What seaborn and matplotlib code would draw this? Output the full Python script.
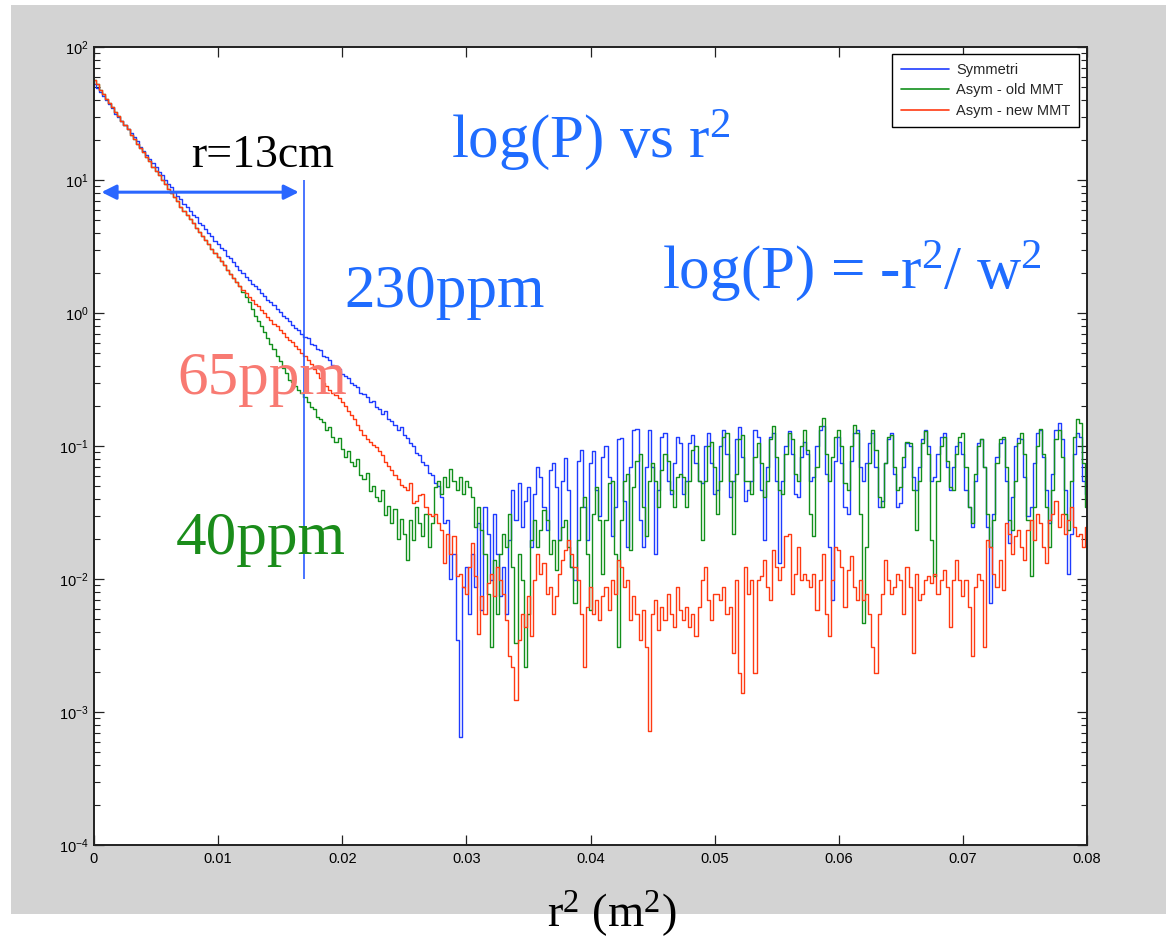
import numpy as np
import pandas as pd
import matplotlib
matplotlib.use("Agg")
import matplotlib.pyplot as plt
from matplotlib.patches import Rectangle
from matplotlib.lines import Line2D
import seaborn as sns

# ---------------- data (log10 of P, bins of 0.00025 m^2) ----------------
series_names = ["Symmetri", "Asym - old MMT", "Asym - new MMT"]
r2_min, r2_max = 0.0, 0.08

sym_log10P = [
    1.72, 1.69, 1.66, 1.63, 1.60, 1.57, 1.54, 1.50, 1.47, 1.44,
    1.41, 1.38, 1.35, 1.32, 1.29, 1.25, 1.22, 1.19, 1.16, 1.13,
    1.10, 1.06, 1.04, 1.00, 0.97, 0.95, 0.91, 0.88, 0.86, 0.82,
    0.80, 0.77, 0.74, 0.72, 0.68, 0.66, 0.63, 0.60, 0.58, 0.54,
    0.52, 0.49, 0.47, 0.43, 0.41, 0.38, 0.35, 0.32, 0.30, 0.27,
    0.25, 0.22, 0.20, 0.18, 0.15, 0.13, 0.10, 0.08, 0.06, 0.03,
    0.01, -0.02, -0.04, -0.06, -0.09, -0.11, -0.13, -0.16, -0.18, -0.19,
    -0.23, -0.24, -0.27, -0.28, -0.32, -0.33, -0.35, -0.39, -0.40, -0.42,
    -0.46, -0.47, -0.49, -0.53, -0.54, -0.56, -0.60, -0.61, -0.63, -0.67,
    -0.66, -0.71, -0.72, -0.76, -0.74, -0.80, -0.81, -0.84, -0.88, -0.86,
    -0.92, -0.94, -0.98, -1.00, -1.05, -1.07, -1.12, -1.14, -1.20, -1.22,
    -1.28, -1.30, -1.38, -1.58, -1.56, -2.00, -1.81, -2.46, -3.19, -2.06,
    -1.91, -2.26, -1.81, -2.06, -1.58, -2.23, -1.46, -1.66, -2.01, -1.51,
    -1.81, -2.13, -1.91, -2.26, -1.71, -1.33, -1.56, -1.28, -1.61, -1.41,
    -1.31, -1.76, -1.36, -1.16, -1.23, -1.46, -1.63, -1.18, -1.13, -1.31,
    -1.71, -1.26, -1.09, -1.33, -1.91, -2.01, -1.11, -1.03, -1.46, -1.71,
    -1.13, -1.04, -1.33, -1.53, -1.08, -1.00, -1.23, -1.68, -1.46, -0.95,
    -0.94, -1.41, -1.76, -1.16, -0.88, -0.87, -1.56, -1.76, -1.16, -0.88,
    -1.16, -1.81, -1.33, -0.93, -0.90, -1.26, -1.36, -1.13, -0.93, -0.98,
    -1.36, -1.26, -0.98, -0.92, -1.13, -1.26, -1.28, -1.00, -0.90, -1.13,
    -1.36, -1.33, -1.00, -0.88, -1.06, -1.38, -1.26, -0.95, -0.86, -1.08,
    -1.41, -1.33, -1.26, -0.88, -0.93, -1.33, -1.71, -1.16, -0.93, -0.90,
    -1.26, -1.88, -1.26, -1.00, -0.89, -1.06, -1.36, -1.38, -1.08, -0.97,
    -1.06, -1.26, -1.23, -1.00, -0.88, -0.85, -1.21, -1.76, -2.16, -1.11,
    -0.93, -1.13, -1.46, -1.51, -1.11, -0.90, -0.88, -1.16, -1.26, -1.13,
    -0.98, -0.90, -1.16, -1.46, -1.41, -1.13, -0.95, -0.90, -1.21, -1.46,
    -1.43, -1.16, -0.98, -1.00, -1.23, -1.33, -1.16, -0.95, -0.88, -1.00,
    -1.26, -1.23, -1.06, -0.93, -0.90, -1.16, -1.33, -1.16, -1.00, -0.97,
    -1.06, -1.33, -1.46, -1.61, -1.26, -0.98, -0.95, -1.16, -1.61, -2.18,
    -1.51, -1.08, -0.98, -0.95, -1.26, -1.73, -1.38, -1.00, -0.94, -0.95,
    -1.23, -1.53, -1.46, -1.13, -0.90, -0.88, -1.08, -1.33, -1.58, -1.21,
    -0.88, -0.83, -0.95, -1.33, -1.96, -1.66, -1.06, -0.90, -0.93, -1.26,
    -1.36,
]

old_log10P = [
    1.75, 1.72, 1.68, 1.65, 1.61, 1.58, 1.55, 1.51, 1.48, 1.44,
    1.41, 1.38, 1.34, 1.31, 1.27, 1.24, 1.21, 1.17, 1.14, 1.10,
    1.07, 1.04, 1.00, 0.97, 0.93, 0.90, 0.87, 0.84, 0.80, 0.77,
    0.74, 0.71, 0.68, 0.64, 0.61, 0.58, 0.55, 0.52, 0.48, 0.45,
    0.42, 0.39, 0.36, 0.32, 0.29, 0.26, 0.23, 0.20, 0.16, 0.12,
    0.08, 0.03, -0.02, -0.06, -0.10, -0.14, -0.19, -0.23, -0.27, -0.32,
    -0.36, -0.41, -0.45, -0.50, -0.52, -0.55, -0.58, -0.60, -0.63, -0.67,
    -0.71, -0.72, -0.78, -0.80, -0.82, -0.88, -0.86, -0.93, -0.97, -0.94,
    -1.02, -1.08, -1.04, -1.12, -1.15, -1.10, -1.22, -1.25, -1.20, -1.34,
    -1.30, -1.38, -1.41, -1.33, -1.52, -1.45, -1.58, -1.47, -1.70, -1.55,
    -1.66, -1.86, -1.56, -1.71, -1.46, -1.58, -1.68, -1.51, -1.76, -1.58,
    -1.31, -1.26, -1.36, -1.23, -1.31, -1.17, -1.26, -1.33, -1.23, -1.36,
    -1.26, -1.31, -1.38, -1.61, -1.46, -1.63, -1.81, -2.11, -2.51, -1.86,
    -2.26, -1.81, -1.66, -1.76, -1.51, -1.91, -2.48, -1.81, -2.01, -2.66,
    -2.26, -1.71, -1.56, -1.76, -1.63, -1.48, -1.56, -1.81, -1.71, -1.93,
    -1.71, -1.61, -1.56, -1.76, -1.91, -2.18, -1.71, -1.46, -1.38, -1.81,
    -2.23, -1.51, -1.31, -1.56, -1.96, -1.56, -1.28, -1.26, -1.81, -2.51,
    -1.56, -1.26, -1.21, -1.78, -1.31, -1.11, -1.06, -1.46, -1.68, -1.26,
    -1.13, -1.26, -1.46, -1.18, -1.06, -1.11, -1.33, -1.46, -1.23, -1.21,
    -1.23, -1.46, -1.26, -1.03, -1.00, -1.26, -1.71, -1.26, -1.00, -0.97,
    -1.16, -1.51, -1.26, -0.93, -0.90, -1.26, -1.66, -1.21, -0.95, -0.92,
    -1.26, -1.26, -1.36, -1.08, -0.98, -1.13, -1.38, -1.26, -0.95, -0.85,
    -1.08, -1.33, -1.36, -1.06, -0.90, -0.95, -1.21, -1.26, -1.00, -0.88,
    -1.03, -1.51, -1.68, -1.16, -0.85, -0.79, -1.06, -1.26, -1.08, -0.93,
    -0.88, -1.00, -1.28, -1.33, -1.00, -0.84, -0.90, -1.51, -2.33, -1.76,
    -1.13, -0.88, -1.03, -1.38, -1.46, -1.13, -0.93, -0.92, -1.16, -1.33,
    -1.31, -1.08, -0.97, -0.98, -1.33, -1.63, -1.26, -0.98, -0.89, -1.06,
    -1.71, -1.98, -1.26, -1.00, -0.93, -1.11, -1.31, -1.33, -1.06, -0.93,
    -0.90, -1.16, -1.46, -1.58, -1.21, -1.00, -0.95, -1.16, -1.51, -1.76,
    -1.56, -1.13, -0.95, -0.93, -1.16, -1.56, -1.63, -1.26, -0.98, -0.90,
    -1.06, -1.56, -1.98, -1.46, -1.00, -0.87, -1.06, -1.46, -1.76, -1.33,
    -0.95, -0.88, -1.08, -1.51, -1.63, -1.26, -0.93, -0.80, -0.83, -1.13,
    -1.46,
]

new_log10P = [
    1.75, 1.72, 1.68, 1.65, 1.61, 1.58, 1.55, 1.51, 1.48, 1.44,
    1.41, 1.38, 1.34, 1.31, 1.27, 1.24, 1.21, 1.17, 1.14, 1.10,
    1.07, 1.04, 1.00, 0.97, 0.93, 0.90, 0.87, 0.84, 0.80, 0.77,
    0.74, 0.71, 0.68, 0.64, 0.61, 0.58, 0.55, 0.52, 0.48, 0.45,
    0.42, 0.39, 0.36, 0.32, 0.29, 0.26, 0.23, 0.20, 0.17, 0.15,
    0.12, 0.10, 0.07, 0.05, 0.02, 0.00, -0.03, -0.05, -0.08, -0.10,
    -0.13, -0.15, -0.18, -0.20, -0.22, -0.25, -0.27, -0.30, -0.32, -0.35,
    -0.38, -0.42, -0.45, -0.49, -0.53, -0.55, -0.58, -0.60, -0.62, -0.64,
    -0.67, -0.70, -0.74, -0.77, -0.80, -0.84, -0.88, -0.92, -0.95, -0.97,
    -0.99, -1.01, -1.04, -1.07, -1.12, -1.15, -1.18, -1.22, -1.25, -1.29,
    -1.31, -1.33, -1.28, -1.43, -1.41, -1.37, -1.36, -1.46, -1.51, -1.53,
    -1.51, -1.58, -1.63, -1.88, -1.66, -1.81, -1.68, -1.98, -1.96, -2.06,
    -2.11, -1.91, -1.73, -1.98, -2.41, -2.13, -2.26, -2.03, -1.96, -2.13,
    -1.91, -2.01, -2.11, -2.31, -2.58, -2.66, -2.91, -2.46, -2.26, -2.36,
    -2.13, -2.43, -2.01, -1.81, -1.96, -1.88, -2.11, -2.06, -2.26, -2.13,
    -1.96, -1.86, -1.78, -1.71, -1.81, -1.91, -2.01, -2.26, -2.66, -2.21,
    -2.06, -2.26, -2.16, -2.31, -2.13, -2.06, -2.23, -2.01, -2.11, -1.86,
    -1.91, -2.06, -2.01, -2.31, -2.13, -2.26, -2.46, -2.23, -2.51, -3.14,
    -2.26, -2.16, -2.38, -2.21, -2.31, -2.11, -2.26, -2.36, -2.06, -2.23,
    -2.31, -2.21, -2.36, -2.26, -2.43, -2.21, -2.01, -1.91, -2.16, -2.31,
    -2.11, -2.11, -2.16, -2.06, -2.26, -2.21, -2.56, -2.01, -2.71, -2.86,
    -1.91, -2.11, -2.01, -2.71, -2.01, -1.98, -1.86, -2.06, -2.16, -1.78,
    -1.91, -2.01, -1.91, -1.68, -1.66, -2.11, -1.96, -1.76, -2.01, -1.96,
    -2.01, -2.06, -1.96, -2.23, -2.01, -1.81, -2.26, -2.43, -2.01, -1.76,
    -1.78, -1.91, -2.21, -1.93, -1.83, -2.06, -2.16, -2.01, -2.16, -2.11,
    -2.26, -2.51, -2.71, -2.26, -2.11, -1.86, -2.01, -2.11, -2.06, -1.96,
    -2.01, -2.26, -1.91, -2.06, -2.56, -1.96, -2.16, -2.11, -2.01, -1.98,
    -2.03, -1.96, -2.11, -2.01, -1.93, -2.06, -2.36, -2.01, -1.86, -2.01,
    -2.13, -2.01, -2.21, -2.58, -2.06, -1.96, -2.01, -2.51, -1.71, -1.76,
    -1.96, -2.06, -1.86, -2.08, -1.58, -1.66, -1.81, -1.68, -1.63, -1.76,
    -1.86, -1.63, -1.56, -1.71, -1.51, -1.58, -1.76, -1.88, -1.56, -1.51,
    -1.41, -1.61, -1.51, -1.66, -1.56, -1.46, -1.61, -1.68, -1.66, -1.76,
    -1.61,
]

x_ticks = [0, 0.01, 0.02, 0.03, 0.04, 0.05, 0.06, 0.07, 0.08]
x_tick_labels = ["0", "0.01", "0.02", "0.03", "0.04", "0.05", "0.06", "0.07", "0.08"]
y_limits = (1e-4, 1e2)

# ---------------- style ----------------
sns.set_style("ticks")
plt.rcParams.update({
    "font.family": ["Liberation Sans", "DejaVu Sans"],
    "mathtext.fontset": "custom",
    "mathtext.rm": "Liberation Serif",
    "mathtext.it": "Liberation Serif:italic",
    "mathtext.bf": "Liberation Serif:bold",
    "axes.unicode_minus": False,
})

line_colors = {"Symmetri": "#1f3cff", "Asym - old MMT": "#12901c", "Asym - new MMT": "#ff3a12"}
note_blue = "#1f6cff"
serif = ["Liberation Serif", "DejaVu Serif"]

# ---------------- figure ----------------
W, H = 1166, 938
fig = plt.figure(figsize=(W / 100, H / 100), dpi=100, facecolor="white")
fig.patches.append(Rectangle((11 / W, 1 - 914 / H), (W - 11) / W, (914 - 5) / H,
                             transform=fig.transFigure, facecolor="#d3d3d3",
                             edgecolor="none", zorder=-10))
ax = fig.add_axes([94 / W, 1 - 845 / H, (1087 - 94) / W, (845 - 47) / H])
ax.set_facecolor("white")
ax.set_yscale("log")

frames = []
for name, vals in zip(series_names, [sym_log10P, old_log10P, new_log10P]):
    v = np.asarray(vals, dtype=float)
    frames.append(pd.DataFrame({"r2": np.linspace(r2_min, r2_max, len(v)),
                                "P": 10.0 ** v, "series": name}))
df = pd.concat(frames, ignore_index=True)

sns.lineplot(data=df, x="r2", y="P", hue="series", hue_order=series_names,
             palette=line_colors, estimator=None, sort=False, linewidth=1.0,
             drawstyle="steps-mid", legend=False, ax=ax)

ax.set_xlim(r2_min, r2_max)
ax.set_ylim(*y_limits)
ax.set_xticks(x_ticks)
ax.set_xticklabels(x_tick_labels)
ax.tick_params(which="both", direction="in", top=True, right=True,
               colors="#222222", labelcolor="black", labelsize=10.5)
ax.tick_params(which="major", length=7.5, width=0.9, pad=4)
ax.tick_params(which="minor", length=4, width=0.8)
ax.tick_params(axis="x", pad=5)
for s in ax.spines.values():
    s.set_linewidth(1.4)
    s.set_color("#222222")
ax.set_ylabel("")
ax.yaxis.label.set_visible(False)
ax.xaxis.get_offset_text().set_visible(False)
ax.yaxis.get_offset_text().set_visible(False)

# x label
ax.set_xlabel("r$^2$ (m$^2$)", fontsize=33.5, family=serif, color="black")
ax.xaxis.set_label_coords((612 - 94) / 993, (845 - 927) / 798)
ax.xaxis.label.set_va("baseline")

# legend
handles = [Line2D([], [], color=line_colors[n], lw=1.2) for n in series_names]
leg = ax.legend(handles, series_names, loc="upper right",
                bbox_to_anchor=((1079 - 94) / 993, (845 - 54) / 798),
                borderaxespad=0, fancybox=False, framealpha=1, edgecolor="black",
                fontsize=10.5, handlelength=3.3, handletextpad=0.45,
                labelspacing=0.45, borderpad=0.6)
leg.get_frame().set_linewidth(1.0)

# annotations
ax.annotate("", xy=(0.0006, 8.1), xytext=(0.0165, 8.1),
            arrowprops=dict(arrowstyle="<|-|>", color="#2a66ff", lw=2.2,
                            mutation_scale=22, shrinkA=0, shrinkB=0))
ax.vlines(0.0169, 0.01, 10, color="#2a5cff", lw=1.2)

ax.text(0.0078, 12.5, "r=13cm", fontsize=33, family=serif, color="black",
        ha="left", va="baseline")
ax.text(0.0288, 14.9, "log(P) vs r$^2$", fontsize=44, family=serif, color=note_blue,
        ha="left", va="baseline")
ax.text(0.0202, 1.11, "230ppm", fontsize=44, family=serif, color=note_blue,
        ha="left", va="baseline")
ax.text(0.0458, 1.54, "log(P) = -r$^2$/ w$^2$", fontsize=44, family=serif,
        color=note_blue, ha="left", va="baseline")
ax.text(0.0067, 0.246, "65ppm", fontsize=44, family=serif, color="#f87a72",
        ha="left", va="baseline")
ax.text(0.0066, 0.0154, "40ppm", fontsize=44, family=serif, color="#1a8c1a",
        ha="left", va="baseline")

fig.savefig("out.png", dpi=100, facecolor="white")
